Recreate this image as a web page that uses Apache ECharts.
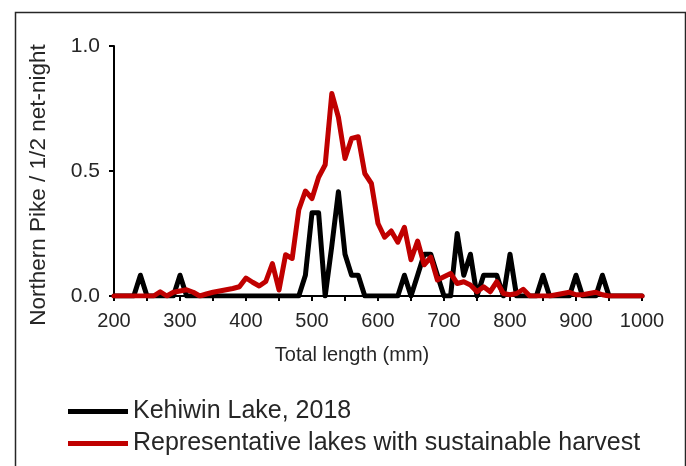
<!DOCTYPE html>
<html>
<head>
<meta charset="utf-8">
<script src="https://cdn.jsdelivr.net/npm/echarts@6/dist/echarts.min.js"></script>
<style>
html,body{margin:0;padding:0;background:#fff;}
#chart{width:686px;height:466px;}
</style>
</head>
<body>
<div id="chart"></div>
<script>
var lengths = [200,210,220,230,240,250,260,270,280,290,
  300,310,320,330,340,350,360,370,380,390,
  400,410,420,430,440,450,460,470,480,490,
  500,510,520,530,540,550,560,570,580,590,
  600,610,620,630,640,650,660,670,680,690,
  700,710,720,730,740,750,760,770,780,790,
  800,810,820,830,840,850,860,870,880,890,
  900,910,920,930,940,950,960,970,980,990,1000];

var kehiwin = [0,0,0,0,0.083,0,0,0,0,0,
  0.083,0,0,0,0,0,0,0,0,0,
  0,0,0,0,0,0,0,0,0,0.083,
  0.333,0.333,0,0.2,0.417,0.167,0.083,0.083,0,0,
  0,0,0,0,0.083,0,0.083,0.167,0.167,0.083,
  0,0,0.25,0.083,0.167,0,0.083,0.083,0.083,0,
  0.167,0,0,0,0,0.083,0,0,0,0,
  0.083,0,0,0,0.083,0,0,0,0,0,0];

var representative = [0,0,0,0,0,0,0,0.017,0,0.015,
  0.02,0.025,0.015,0,0.008,0.015,0.02,0.025,0.03,0.037,
  0.072,0.055,0.04,0.058,0.13,0.024,0.165,0.15,0.345,0.42,
  0.39,0.475,0.525,0.81,0.715,0.55,0.63,0.637,0.49,0.45,
  0.29,0.235,0.26,0.215,0.275,0.145,0.22,0.125,0.155,0.064,
  0.077,0.09,0.05,0.057,0.044,0.017,0.037,0.017,0.057,0.01,
  0.005,0.01,0.027,0,0,0,0,0.005,0.01,0.015,
  0.005,0.005,0.01,0.015,0.005,0,0,0,0,0,0];

var seriesNames = ['Kehiwin Lake, 2018', 'Representative lakes with sustainable harvest'];

function pairs(ys) {
  return lengths.map(function (x, i) { return [x, ys[i]]; });
}

var FONT = "'Liberation Sans', Arial, sans-serif";
var chart = echarts.init(document.getElementById('chart'), null, {renderer: 'canvas'});
chart.setOption({
  animation: false,
  backgroundColor: '#ffffff',
  textStyle: {fontFamily: FONT, color: '#262626'},
  graphic: [{
    type: 'rect', left: 13, top: 10,
    shape: {width: 670, height: 470},
    style: {fill: 'none', stroke: '#262626', lineWidth: 1.5},
    silent: true, z: -1
  }],
  grid: {left: 114, right: 44, top: 46, bottom: 170, containLabel: false},
  legend: {
    orient: 'vertical', left: 68, top: 399, itemGap: 7, padding: 0,
    itemWidth: 60, itemHeight: 5,
    icon: 'rect',
    textStyle: {fontFamily: FONT, fontSize: 25, color: '#262626'},
    data: seriesNames
  },
  xAxis: {
    type: 'value', min: 200, max: 1000, interval: 50,
    name: 'Total length (mm)', nameLocation: 'middle', nameGap: 49,
    nameTextStyle: {fontFamily: FONT, fontSize: 20, color: '#262626', padding: [0, 52, 0, 0]},
    axisLine: {show: true, onZero: false, lineStyle: {color: '#000', width: 2}},
    axisTick: {show: true, inside: false, length: 5, lineStyle: {color: '#000', width: 2}},
    axisLabel: {
      fontFamily: FONT, fontSize: 20, color: '#262626', margin: 15,
      formatter: function (v) { return v % 100 === 0 ? String(v) : ''; }
    },
    splitLine: {show: false}
  },
  yAxis: {
    type: 'value', min: 0, max: 1, interval: 0.5,
    name: 'Northern Pike / 1/2 net-night', nameLocation: 'middle', nameGap: 64,
    nameRotate: 90,
    nameTextStyle: {fontFamily: FONT, fontSize: 22.5, color: '#262626', padding: [0, 28, 0, 0]},
    axisLine: {show: true, lineStyle: {color: '#000', width: 2}},
    axisTick: {show: true, inside: false, length: 5, lineStyle: {color: '#000', width: 2}},
    axisLabel: {
      fontFamily: FONT, fontSize: 21, color: '#262626', margin: 14,
      formatter: function (v) { return v.toFixed(1); }
    },
    splitLine: {show: false}
  },
  series: [{
    name: seriesNames[0], type: 'line', data: pairs(kehiwin),
    showSymbol: false, symbol: 'none',
    itemStyle: {color: '#000000'},
    lineStyle: {color: '#000000', width: 5, join: 'round', cap: 'round'}
  }, {
    name: seriesNames[1], type: 'line', data: pairs(representative),
    showSymbol: false, symbol: 'none',
    itemStyle: {color: '#C00000'},
    lineStyle: {color: '#C00000', width: 5, join: 'round', cap: 'round'}
  }]
});
</script>
</body>
</html>
